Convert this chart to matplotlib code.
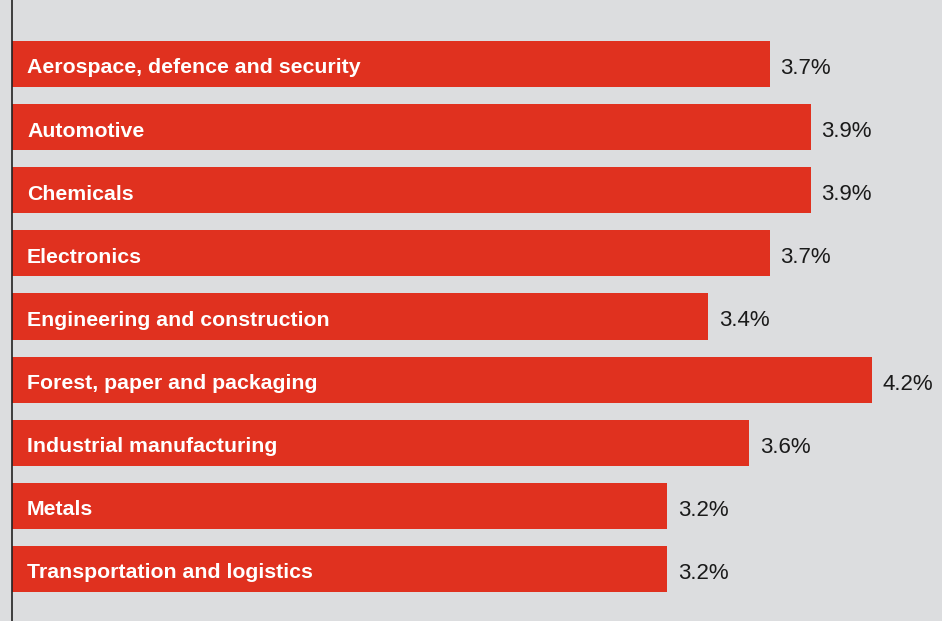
import matplotlib.pyplot as plt
import numpy as np

# Data
sectors = [
    "Aerospace, defence and security",
    "Automotive",
    "Chemicals",
    "Electronics",
    "Engineering and construction",
    "Forest, paper and packaging",
    "Industrial manufacturing",
    "Metals",
    "Transportation and logistics",
]
values = [3.7, 3.9, 3.9, 3.7, 3.4, 4.2, 3.6, 3.2, 3.2]

bg = "#dcdddf"
red = "#e0311f"
px = 1 / 204.75  # one pixel in data units

fig = plt.figure(figsize=(9.42, 6.21), dpi=100, facecolor=bg)
ax = fig.add_axes([12 / 942, 0, 1 - 12 / 942, 1])
ax.set_facecolor(bg)

y = np.arange(len(sectors))
ax.barh(y, values, height=0.73, color=red, left=0)

for yi, name, v in zip(y, sectors, values):
    ax.text(15 * px, yi + 0.03, name, color="white", fontsize=15.3, fontweight="bold",
            family="Liberation Sans", va="center_baseline", ha="left")
    ax.text(v + 11 * px, yi + 0.03, f"{v}%", color="#1a1a1a", fontsize=16,
            family="Liberation Sans", va="center_baseline", ha="left")

ax.set_xlim(0, 930 * px)
ax.set_ylim(8.824, -1.014)
for s in ["top", "right", "bottom"]:
    ax.spines[s].set_visible(False)
ax.spines["left"].set_color("#222222")
ax.spines["left"].set_linewidth(1.2)
ax.set_xticks([])
ax.set_yticks([])

fig.savefig("out.png", dpi=100, facecolor=bg)
